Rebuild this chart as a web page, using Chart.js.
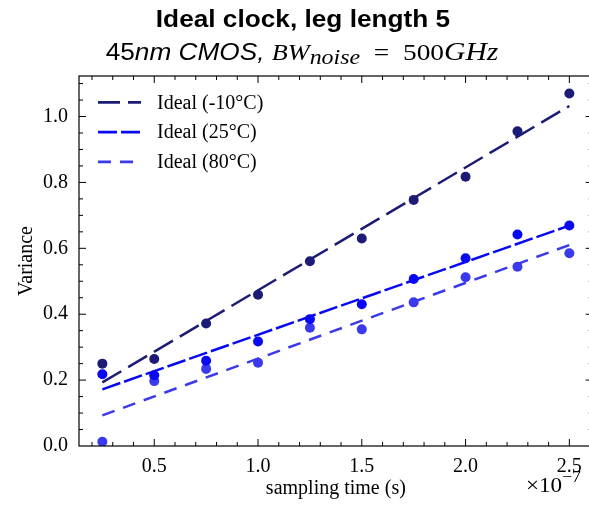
<!DOCTYPE html>
<html>
<head>
<meta charset="utf-8">
<script src="https://cdn.jsdelivr.net/npm/chart.js@4.4.1/dist/chart.umd.min.js"></script>
<style>
  html, body { margin: 0; padding: 0; background: #fff; overflow: hidden; }
  #wrap { position: relative; width: 600px; height: 509px; }
</style>
</head>
<body>
<div id="wrap"><canvas id="varianceChart"></canvas></div>
<script>
// sampling time, in units of 1e-7 s
const sampleTimes = [0.25, 0.5, 0.75, 1.0, 1.25, 1.5, 1.75, 2.0, 2.25, 2.5];

// measured variance per temperature
const varianceM10 = [0.250, 0.264, 0.372, 0.459, 0.561, 0.630, 0.747, 0.817, 0.955, 1.070];
const variance25 = [0.218, 0.215, 0.259, 0.317, 0.385, 0.430, 0.507, 0.570, 0.642, 0.669];
const variance80 = [0.013, 0.197, 0.234, 0.253, 0.359, 0.354, 0.436, 0.512, 0.544, 0.585];

// ideal (fitted) lines, end points
const fitTimes = [0.25, 2.5];
const fitM10 = [0.193, 1.032];
const fit25 = [0.172, 0.669];
const fit80 = [0.093, 0.610];

const seriesLabels = ['Ideal (-10\u00B0C)', 'Ideal (25\u00B0C)', 'Ideal (80\u00B0C)'];

const xTicks = [0.5, 1.0, 1.5, 2.0, 2.5];
const yTicks = [0.0, 0.2, 0.4, 0.6, 0.8, 1.0];

const colorM10 = '#1c1c76';
const color25 = '#0808f2';
const color80 = '#3a3aec';

const SERIF = "'Liberation Serif', 'Times New Roman', serif";
const SANS = "'Liberation Sans', Arial, sans-serif";
const X_STRETCH = 1.14;

function toPoints(xs, ys) {
    return xs.map((x, i) => ({ x: x, y: ys[i] }));
}

// draw a row of differently styled text pieces
function drawRuns(ctx, runs, left, baseline, stretch, centered) {
    ctx.save();
    let total = 0;
    runs.forEach(r => { ctx.font = r.font; r.w = ctx.measureText(r.text).width; total += r.w; });
    const start = centered ? left - total * stretch / 2 : left;
    ctx.translate(start, baseline);
    ctx.scale(stretch, 1);
    ctx.fillStyle = '#000';
    ctx.textAlign = 'left';
    ctx.textBaseline = 'alphabetic';
    let x = 0;
    runs.forEach(r => {
        ctx.font = r.font;
        ctx.fillText(r.text, x, r.dy || 0);
        x += r.w;
    });
    ctx.restore();
}

// box around the plot with inward ticks on every side
const frameTicks = {
    id: 'frameTicks',
    afterDraw(chart) {
        const { ctx, chartArea: a, scales: { x, y } } = chart;
        ctx.save();
        ctx.strokeStyle = '#000';
        ctx.lineWidth = 1;
        ctx.beginPath();
        const seg = (x1, y1, x2, y2) => { ctx.moveTo(x1, y1); ctx.lineTo(x2, y2); };
        for (let i = 2; i <= 26; i++) {
            const px = x.getPixelForValue(i / 10);
            const len = i % 5 === 0 ? 7 : 4;
            seg(px, a.bottom, px, a.bottom - len);
            seg(px, a.top, px, a.top + len);
        }
        for (let i = 1; i <= 22; i++) {
            const py = y.getPixelForValue(i * 0.05);
            const len = i % 4 === 0 ? 7 : 4;
            seg(a.left, py, a.left + len, py);
            seg(a.right, py, a.right - len, py);
        }
        ctx.stroke();
        ctx.lineWidth = 1.2;
        ctx.strokeRect(a.left, a.top, a.right - a.left, a.bottom - a.top);
        ctx.restore();
    }
};

// legend in the upper left corner of the plot
const insideLegend = {
    id: 'insideLegend',
    afterDraw(chart) {
        const ctx = chart.ctx;
        const a = chart.chartArea;
        const fits = chart.data.datasets.filter(d => d.isFit);
        fits.forEach((d, i) => {
            const yy = a.top + 26.3 + i * 29.8;
            ctx.save();
            ctx.strokeStyle = d.borderColor;
            ctx.lineWidth = 2.8;
            ctx.setLineDash(d.borderDash);
            ctx.beginPath();
            ctx.moveTo(a.left + 19, yy);
            ctx.lineTo(a.left + 62, yy);
            ctx.stroke();
            ctx.setLineDash([]);
            ctx.fillStyle = '#000';
            ctx.font = '20px ' + SERIF;
            ctx.textBaseline = 'middle';
            ctx.fillText(d.label, a.left + 78, yy + 1);
            ctx.restore();
        });
    }
};

// two line title and the x10^-7 offset label
const titleText = {
    id: 'titleText',
    afterDraw(chart) {
        const ctx = chart.ctx;
        drawRuns(ctx, [
            { text: 'Ideal clock, leg length 5', font: 'bold 23px ' + SANS }
        ], 303, 27.3, X_STRETCH, true);
        drawRuns(ctx, [
            { text: '45', font: '23px ' + SANS },
            { text: 'nm CMOS, ', font: 'italic 23px ' + SANS },
            { text: 'BW', font: 'italic 23px ' + SERIF },
            { text: 'noise', font: 'italic 21px ' + SERIF, dy: 4 },
            { text: '\u2002=\u2002', font: '24px ' + SERIF },
            { text: '500', font: '24px ' + SERIF },
            { text: 'GHz', font: 'italic 26px ' + SERIF }
        ], 302, 59.5, X_STRETCH, true);
        drawRuns(ctx, [
            { text: '\u00D710', font: '21px ' + SERIF },
            { text: '\u22127', font: '16px ' + SERIF, dy: -10 }
        ], 526, 492, 1.1, false);
    }
};

const tickFont = { family: SERIF, size: 20 };

new Chart(document.getElementById('varianceChart'), {
    type: 'scatter',
    data: {
        datasets: [
            { label: seriesLabels[0], isFit: true, type: 'line', data: toPoints(fitTimes, fitM10), borderColor: colorM10, borderWidth: 2.5, borderDash: [22, 8], pointRadius: 0, order: 2 },
            { label: seriesLabels[1], isFit: true, type: 'line', data: toPoints(fitTimes, fit25), borderColor: color25, borderWidth: 2.5, borderDash: [19, 4], pointRadius: 0, order: 2 },
            { label: seriesLabels[2], isFit: true, type: 'line', data: toPoints(fitTimes, fit80), borderColor: color80, borderWidth: 2.5, borderDash: [13, 9], pointRadius: 0, order: 2 },
            { label: 'm10', data: toPoints(sampleTimes, varianceM10), backgroundColor: colorM10, borderWidth: 0, pointRadius: 5, order: 1 },
            { label: 'c25', data: toPoints(sampleTimes, variance25), backgroundColor: color25, borderWidth: 0, pointRadius: 5, order: 1 },
            { label: 'c80', data: toPoints(sampleTimes, variance80), backgroundColor: color80, borderWidth: 0, pointRadius: 5, order: 1 }
        ]
    },
    options: {
        responsive: true,
        maintainAspectRatio: false,
        animation: false,
        layout: { padding: { left: 0, top: 76, right: 7.3, bottom: 0 } },
        plugins: {
            legend: { display: false },
            tooltip: { enabled: false }
        },
        scales: {
            x: {
                type: 'linear',
                min: 0.1375,
                max: 2.6125,
                grid: { display: false, drawTicks: false },
                border: { display: false },
                ticks: {
                    color: '#000',
                    font: tickFont,
                    padding: 9,
                    autoSkip: false,
                    maxRotation: 0,
                    callback: v => v.toFixed(1)
                },
                afterBuildTicks: s => { s.ticks = xTicks.map(v => ({ value: v })); },
                afterFit: s => { s.height = 63; },
                title: { display: true, text: 'sampling time (s)', color: '#000', font: tickFont, padding: { top: 0, bottom: 8 } }
            },
            y: {
                min: 0,
                max: 1.123,
                grid: { display: false, drawTicks: false },
                border: { display: false },
                ticks: {
                    color: '#000',
                    font: tickFont,
                    padding: 11,
                    autoSkip: false,
                    callback: v => v.toFixed(1)
                },
                afterBuildTicks: s => { s.ticks = yTicks.map(v => ({ value: v })); },
                afterFit: s => { s.width = 79; },
                title: { display: true, text: 'Variance', color: '#000', font: tickFont, padding: { top: 14.5, bottom: 0 } }
            }
        }
    },
    plugins: [frameTicks, insideLegend, titleText]
});
</script>
</body>
</html>
